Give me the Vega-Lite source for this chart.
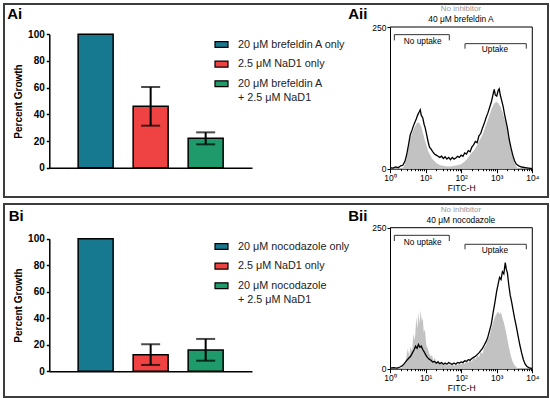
{
  "$schema": "https://vega.github.io/schema/vega-lite/v6.json",
  "padding": {"left": 3, "top": 3, "right": 3, "bottom": 3},
  "background": "white",
  "config": {
    "view": {"stroke": "#3c3c3c", "strokeWidth": 2},
    "font": "Liberation Sans",
    "axis": {"grid": false, "domainColor": "black", "tickColor": "black", "labelColor": "black", "titleColor": "black", "labelFont": "Liberation Sans", "titleFont": "Liberation Sans", "labelOverlap": false},
    "legend": {"orient": "none", "direction": "vertical", "symbolType": "M-1,-0.45H1V0.45H-1Z", "symbolSize": 169, "symbolStrokeColor": "black", "symbolStrokeWidth": 1.2, "symbolOpacity": 1, "labelFontSize": 10.8, "labelFont": "Liberation Sans", "labelColor": "#222222", "labelOffset": 9, "rowPadding": 6.6, "labelLimit": 300, "padding": 0},
    "style": {"guide-label": {"lineHeight": 14.4}},
    "text": {"font": "Liberation Sans", "baseline": "middle", "align": "center", "color": "black"},
    "concat": {"spacing": 5}
  },
  "datasets": {
    "barsA": [
      {"treatment": "20 μM brefeldin A only", "growth": 100, "lower": null, "upper": null},
      {"treatment": "2.5 μM NaD1 only", "growth": 46, "lower": 31.5, "upper": 60.5},
      {"treatment": "20 μM brefeldin A + 2.5 μM NaD1", "growth": 22, "lower": 17.5, "upper": 26.5}
    ],
    "barsB": [
      {"treatment": "20 μM nocodazole only", "growth": 100, "lower": null, "upper": null},
      {"treatment": "2.5 μM NaD1 only", "growth": 12.5, "lower": 4.8, "upper": 20.4},
      {"treatment": "20 μM nocodazole + 2.5 μM NaD1", "growth": 16, "lower": 8, "upper": 24.4}
    ],
    "histA": [
      {"sample":"none","lfitc":0.30,"count":0},{"sample":"none","lfitc":0.38,"count":3},{"sample":"none","lfitc":0.43,"count":10},{"sample":"none","lfitc":0.48,"count":22},{"sample":"none","lfitc":0.53,"count":40},{"sample":"none","lfitc":0.58,"count":55},{"sample":"none","lfitc":0.63,"count":64},{"sample":"none","lfitc":0.68,"count":72},{"sample":"none","lfitc":0.73,"count":78},{"sample":"none","lfitc":0.78,"count":82},{"sample":"none","lfitc":0.83,"count":80},{"sample":"none","lfitc":0.88,"count":74},{"sample":"none","lfitc":0.93,"count":62},{"sample":"none","lfitc":0.98,"count":50},{"sample":"none","lfitc":1.03,"count":40},{"sample":"none","lfitc":1.08,"count":30},{"sample":"none","lfitc":1.13,"count":24},{"sample":"none","lfitc":1.18,"count":18},{"sample":"none","lfitc":1.24,"count":14},{"sample":"none","lfitc":1.30,"count":10},{"sample":"none","lfitc":1.36,"count":8},{"sample":"none","lfitc":1.42,"count":6},{"sample":"none","lfitc":1.50,"count":5},{"sample":"none","lfitc":1.60,"count":4},{"sample":"none","lfitc":1.70,"count":4},{"sample":"none","lfitc":1.80,"count":5},{"sample":"none","lfitc":1.90,"count":6},{"sample":"none","lfitc":2.00,"count":8},{"sample":"none","lfitc":2.08,"count":12},{"sample":"none","lfitc":2.15,"count":16},{"sample":"none","lfitc":2.22,"count":22},{"sample":"none","lfitc":2.30,"count":28},{"sample":"none","lfitc":2.38,"count":34},{"sample":"none","lfitc":2.45,"count":42},{"sample":"none","lfitc":2.52,"count":50},{"sample":"none","lfitc":2.60,"count":60},{"sample":"none","lfitc":2.67,"count":72},{"sample":"none","lfitc":2.74,"count":84},{"sample":"none","lfitc":2.80,"count":95},{"sample":"none","lfitc":2.86,"count":106},{"sample":"none","lfitc":2.92,"count":114},{"sample":"none","lfitc":2.98,"count":118},{"sample":"none","lfitc":3.04,"count":116},{"sample":"none","lfitc":3.10,"count":110},{"sample":"none","lfitc":3.16,"count":100},{"sample":"none","lfitc":3.22,"count":88},{"sample":"none","lfitc":3.28,"count":74},{"sample":"none","lfitc":3.34,"count":56},{"sample":"none","lfitc":3.40,"count":34},{"sample":"none","lfitc":3.45,"count":20},{"sample":"none","lfitc":3.50,"count":10},{"sample":"none","lfitc":3.56,"count":3},{"sample":"none","lfitc":3.62,"count":0},
      {"sample":"inhibitor","lfitc":0.00,"count":2},{"sample":"inhibitor","lfitc":0.08,"count":1},{"sample":"inhibitor","lfitc":0.16,"count":3},{"sample":"inhibitor","lfitc":0.24,"count":2},{"sample":"inhibitor","lfitc":0.30,"count":5},{"sample":"inhibitor","lfitc":0.36,"count":6},{"sample":"inhibitor","lfitc":0.42,"count":13},{"sample":"inhibitor","lfitc":0.47,"count":25},{"sample":"inhibitor","lfitc":0.52,"count":42},{"sample":"inhibitor","lfitc":0.57,"count":60},{"sample":"inhibitor","lfitc":0.62,"count":68},{"sample":"inhibitor","lfitc":0.66,"count":76},{"sample":"inhibitor","lfitc":0.70,"count":82},{"sample":"inhibitor","lfitc":0.74,"count":88},{"sample":"inhibitor","lfitc":0.78,"count":95},{"sample":"inhibitor","lfitc":0.82,"count":100},{"sample":"inhibitor","lfitc":0.85,"count":104},{"sample":"inhibitor","lfitc":0.88,"count":94},{"sample":"inhibitor","lfitc":0.92,"count":90},{"sample":"inhibitor","lfitc":0.96,"count":78},{"sample":"inhibitor","lfitc":0.99,"count":72},{"sample":"inhibitor","lfitc":1.03,"count":60},{"sample":"inhibitor","lfitc":1.07,"count":48},{"sample":"inhibitor","lfitc":1.11,"count":38},{"sample":"inhibitor","lfitc":1.15,"count":35},{"sample":"inhibitor","lfitc":1.20,"count":30},{"sample":"inhibitor","lfitc":1.25,"count":26},{"sample":"inhibitor","lfitc":1.30,"count":24},{"sample":"inhibitor","lfitc":1.35,"count":22},{"sample":"inhibitor","lfitc":1.40,"count":20},{"sample":"inhibitor","lfitc":1.45,"count":22},{"sample":"inhibitor","lfitc":1.50,"count":18},{"sample":"inhibitor","lfitc":1.55,"count":21},{"sample":"inhibitor","lfitc":1.60,"count":17},{"sample":"inhibitor","lfitc":1.65,"count":20},{"sample":"inhibitor","lfitc":1.70,"count":16},{"sample":"inhibitor","lfitc":1.75,"count":20},{"sample":"inhibitor","lfitc":1.80,"count":17},{"sample":"inhibitor","lfitc":1.85,"count":19},{"sample":"inhibitor","lfitc":1.90,"count":22},{"sample":"inhibitor","lfitc":1.95,"count":20},{"sample":"inhibitor","lfitc":2.00,"count":24},{"sample":"inhibitor","lfitc":2.05,"count":22},{"sample":"inhibitor","lfitc":2.10,"count":28},{"sample":"inhibitor","lfitc":2.15,"count":26},{"sample":"inhibitor","lfitc":2.20,"count":32},{"sample":"inhibitor","lfitc":2.25,"count":30},{"sample":"inhibitor","lfitc":2.30,"count":38},{"sample":"inhibitor","lfitc":2.35,"count":42},{"sample":"inhibitor","lfitc":2.40,"count":48},{"sample":"inhibitor","lfitc":2.45,"count":46},{"sample":"inhibitor","lfitc":2.50,"count":58},{"sample":"inhibitor","lfitc":2.55,"count":62},{"sample":"inhibitor","lfitc":2.60,"count":72},{"sample":"inhibitor","lfitc":2.65,"count":80},{"sample":"inhibitor","lfitc":2.70,"count":90},{"sample":"inhibitor","lfitc":2.75,"count":98},{"sample":"inhibitor","lfitc":2.80,"count":108},{"sample":"inhibitor","lfitc":2.85,"count":118},{"sample":"inhibitor","lfitc":2.90,"count":132},{"sample":"inhibitor","lfitc":2.93,"count":140},{"sample":"inhibitor","lfitc":2.96,"count":130},{"sample":"inhibitor","lfitc":3.00,"count":128},{"sample":"inhibitor","lfitc":3.04,"count":138},{"sample":"inhibitor","lfitc":3.07,"count":141},{"sample":"inhibitor","lfitc":3.10,"count":130},{"sample":"inhibitor","lfitc":3.14,"count":120},{"sample":"inhibitor","lfitc":3.18,"count":110},{"sample":"inhibitor","lfitc":3.22,"count":96},{"sample":"inhibitor","lfitc":3.26,"count":84},{"sample":"inhibitor","lfitc":3.30,"count":72},{"sample":"inhibitor","lfitc":3.35,"count":52},{"sample":"inhibitor","lfitc":3.40,"count":37},{"sample":"inhibitor","lfitc":3.45,"count":24},{"sample":"inhibitor","lfitc":3.50,"count":14},{"sample":"inhibitor","lfitc":3.55,"count":8},{"sample":"inhibitor","lfitc":3.62,"count":5},{"sample":"inhibitor","lfitc":3.70,"count":3},{"sample":"inhibitor","lfitc":3.80,"count":2},{"sample":"inhibitor","lfitc":3.90,"count":1},{"sample":"inhibitor","lfitc":4.00,"count":0}
    ],
    "histB": [
      {"sample":"none","lfitc":0.30,"count":0},{"sample":"none","lfitc":0.36,"count":4},{"sample":"none","lfitc":0.42,"count":10},{"sample":"none","lfitc":0.46,"count":20},{"sample":"none","lfitc":0.50,"count":36},{"sample":"none","lfitc":0.54,"count":22},{"sample":"none","lfitc":0.58,"count":40},{"sample":"none","lfitc":0.62,"count":30},{"sample":"none","lfitc":0.66,"count":62},{"sample":"none","lfitc":0.70,"count":50},{"sample":"none","lfitc":0.74,"count":92},{"sample":"none","lfitc":0.77,"count":70},{"sample":"none","lfitc":0.80,"count":100},{"sample":"none","lfitc":0.83,"count":78},{"sample":"none","lfitc":0.86,"count":104},{"sample":"none","lfitc":0.89,"count":84},{"sample":"none","lfitc":0.92,"count":90},{"sample":"none","lfitc":0.95,"count":64},{"sample":"none","lfitc":0.98,"count":70},{"sample":"none","lfitc":1.02,"count":42},{"sample":"none","lfitc":1.06,"count":36},{"sample":"none","lfitc":1.10,"count":28},{"sample":"none","lfitc":1.14,"count":22},{"sample":"none","lfitc":1.18,"count":24},{"sample":"none","lfitc":1.22,"count":14},{"sample":"none","lfitc":1.26,"count":20},{"sample":"none","lfitc":1.30,"count":10},{"sample":"none","lfitc":1.35,"count":16},{"sample":"none","lfitc":1.40,"count":8},{"sample":"none","lfitc":1.45,"count":12},{"sample":"none","lfitc":1.50,"count":6},{"sample":"none","lfitc":1.55,"count":10},{"sample":"none","lfitc":1.60,"count":5},{"sample":"none","lfitc":1.65,"count":8},{"sample":"none","lfitc":1.70,"count":6},{"sample":"none","lfitc":1.75,"count":10},{"sample":"none","lfitc":1.80,"count":5},{"sample":"none","lfitc":1.85,"count":8},{"sample":"none","lfitc":1.90,"count":6},{"sample":"none","lfitc":1.95,"count":12},{"sample":"none","lfitc":2.00,"count":7},{"sample":"none","lfitc":2.05,"count":14},{"sample":"none","lfitc":2.10,"count":8},{"sample":"none","lfitc":2.15,"count":16},{"sample":"none","lfitc":2.20,"count":10},{"sample":"none","lfitc":2.25,"count":18},{"sample":"none","lfitc":2.30,"count":12},{"sample":"none","lfitc":2.35,"count":22},{"sample":"none","lfitc":2.40,"count":16},{"sample":"none","lfitc":2.45,"count":24},{"sample":"none","lfitc":2.50,"count":20},{"sample":"none","lfitc":2.55,"count":30},{"sample":"none","lfitc":2.60,"count":26},{"sample":"none","lfitc":2.65,"count":38},{"sample":"none","lfitc":2.70,"count":42},{"sample":"none","lfitc":2.75,"count":52},{"sample":"none","lfitc":2.80,"count":58},{"sample":"none","lfitc":2.85,"count":72},{"sample":"none","lfitc":2.90,"count":82},{"sample":"none","lfitc":2.95,"count":92},{"sample":"none","lfitc":3.00,"count":98},{"sample":"none","lfitc":3.04,"count":102},{"sample":"none","lfitc":3.08,"count":96},{"sample":"none","lfitc":3.12,"count":100},{"sample":"none","lfitc":3.16,"count":90},{"sample":"none","lfitc":3.20,"count":82},{"sample":"none","lfitc":3.25,"count":68},{"sample":"none","lfitc":3.30,"count":52},{"sample":"none","lfitc":3.35,"count":36},{"sample":"none","lfitc":3.40,"count":22},{"sample":"none","lfitc":3.45,"count":12},{"sample":"none","lfitc":3.50,"count":6},{"sample":"none","lfitc":3.56,"count":2},{"sample":"none","lfitc":3.62,"count":0},
      {"sample":"inhibitor","lfitc":0.00,"count":1},{"sample":"inhibitor","lfitc":0.10,"count":2},{"sample":"inhibitor","lfitc":0.20,"count":1},{"sample":"inhibitor","lfitc":0.28,"count":3},{"sample":"inhibitor","lfitc":0.34,"count":5},{"sample":"inhibitor","lfitc":0.40,"count":9},{"sample":"inhibitor","lfitc":0.46,"count":14},{"sample":"inhibitor","lfitc":0.52,"count":18},{"sample":"inhibitor","lfitc":0.58,"count":22},{"sample":"inhibitor","lfitc":0.63,"count":28},{"sample":"inhibitor","lfitc":0.68,"count":34},{"sample":"inhibitor","lfitc":0.72,"count":40},{"sample":"inhibitor","lfitc":0.76,"count":36},{"sample":"inhibitor","lfitc":0.80,"count":43},{"sample":"inhibitor","lfitc":0.84,"count":38},{"sample":"inhibitor","lfitc":0.88,"count":40},{"sample":"inhibitor","lfitc":0.92,"count":34},{"sample":"inhibitor","lfitc":0.96,"count":30},{"sample":"inhibitor","lfitc":1.00,"count":25},{"sample":"inhibitor","lfitc":1.05,"count":20},{"sample":"inhibitor","lfitc":1.10,"count":17},{"sample":"inhibitor","lfitc":1.15,"count":15},{"sample":"inhibitor","lfitc":1.20,"count":12},{"sample":"inhibitor","lfitc":1.25,"count":13},{"sample":"inhibitor","lfitc":1.30,"count":10},{"sample":"inhibitor","lfitc":1.35,"count":12},{"sample":"inhibitor","lfitc":1.40,"count":9},{"sample":"inhibitor","lfitc":1.45,"count":11},{"sample":"inhibitor","lfitc":1.50,"count":8},{"sample":"inhibitor","lfitc":1.55,"count":10},{"sample":"inhibitor","lfitc":1.60,"count":8},{"sample":"inhibitor","lfitc":1.65,"count":11},{"sample":"inhibitor","lfitc":1.70,"count":9},{"sample":"inhibitor","lfitc":1.75,"count":8},{"sample":"inhibitor","lfitc":1.80,"count":10},{"sample":"inhibitor","lfitc":1.85,"count":8},{"sample":"inhibitor","lfitc":1.90,"count":11},{"sample":"inhibitor","lfitc":1.95,"count":10},{"sample":"inhibitor","lfitc":2.00,"count":12},{"sample":"inhibitor","lfitc":2.05,"count":11},{"sample":"inhibitor","lfitc":2.10,"count":14},{"sample":"inhibitor","lfitc":2.15,"count":13},{"sample":"inhibitor","lfitc":2.20,"count":16},{"sample":"inhibitor","lfitc":2.25,"count":15},{"sample":"inhibitor","lfitc":2.30,"count":18},{"sample":"inhibitor","lfitc":2.35,"count":20},{"sample":"inhibitor","lfitc":2.40,"count":22},{"sample":"inhibitor","lfitc":2.45,"count":25},{"sample":"inhibitor","lfitc":2.50,"count":28},{"sample":"inhibitor","lfitc":2.55,"count":32},{"sample":"inhibitor","lfitc":2.60,"count":36},{"sample":"inhibitor","lfitc":2.65,"count":42},{"sample":"inhibitor","lfitc":2.70,"count":48},{"sample":"inhibitor","lfitc":2.75,"count":56},{"sample":"inhibitor","lfitc":2.80,"count":68},{"sample":"inhibitor","lfitc":2.85,"count":80},{"sample":"inhibitor","lfitc":2.90,"count":100},{"sample":"inhibitor","lfitc":2.95,"count":118},{"sample":"inhibitor","lfitc":3.00,"count":138},{"sample":"inhibitor","lfitc":3.04,"count":150},{"sample":"inhibitor","lfitc":3.08,"count":162},{"sample":"inhibitor","lfitc":3.12,"count":158},{"sample":"inhibitor","lfitc":3.16,"count":172},{"sample":"inhibitor","lfitc":3.20,"count":168},{"sample":"inhibitor","lfitc":3.24,"count":188},{"sample":"inhibitor","lfitc":3.27,"count":176},{"sample":"inhibitor","lfitc":3.30,"count":170},{"sample":"inhibitor","lfitc":3.34,"count":148},{"sample":"inhibitor","lfitc":3.38,"count":130},{"sample":"inhibitor","lfitc":3.42,"count":118},{"sample":"inhibitor","lfitc":3.46,"count":104},{"sample":"inhibitor","lfitc":3.50,"count":90},{"sample":"inhibitor","lfitc":3.55,"count":75},{"sample":"inhibitor","lfitc":3.60,"count":58},{"sample":"inhibitor","lfitc":3.65,"count":42},{"sample":"inhibitor","lfitc":3.70,"count":28},{"sample":"inhibitor","lfitc":3.75,"count":16},{"sample":"inhibitor","lfitc":3.80,"count":8},{"sample":"inhibitor","lfitc":3.85,"count":4},{"sample":"inhibitor","lfitc":3.90,"count":2},{"sample":"inhibitor","lfitc":4.00,"count":0}
    ]
  },
  "resolve": {"scale": {"color": "independent", "x": "independent", "y": "independent"}},
  "vconcat": [
    {
      "width": 544, "height": 193,
      "resolve": {"scale": {"x": "independent", "y": "independent"}},
      "layer": [
        {
          "data": {"name": "barsA"},
          "encoding": {
            "x": {"field": "treatment", "type": "nominal", "sort": null, "title": null,
              "scale": {"range": [45.3, 248], "paddingInner": 0.3636, "paddingOuter": 0.524},
              "axis": {"orient": "bottom", "offset": -29.3, "labels": false, "ticks": false, "domainWidth": 1.5}},
            "y": {"field": "growth", "type": "quantitative", "title": "Percent Growth",
              "scale": {"domain": [0, 100], "range": [163.7, 30.3], "nice": false},
              "axis": {"orient": "left", "offset": -45.3, "values": [0, 20, 40, 60, 80, 100], "tickSize": 3, "labelPadding": 2, "labelFontSize": 10, "labelFontWeight": "bold", "labelFlush": false, "labelOverlap": false, "labelSeparation": 0, "titleFontSize": 10, "titleFontWeight": "bold", "titlePadding": 4, "domainWidth": 1.5, "tickWidth": 1.5}}
          },
          "layer": [
            {"mark": {"type": "bar", "stroke": "black", "strokeWidth": 1.5},
             "encoding": {
               "color": {"field": "treatment", "type": "nominal", "sort": null,
                 "scale": {"domain": ["20 μM brefeldin A only", "2.5 μM NaD1 only", "20 μM brefeldin A + 2.5 μM NaD1"], "range": ["#17798f", "#ee4342", "#1f9a6b"]},
                 "legend": {"title": null, "legendX": 210, "legendY": 33,
                   "labelExpr": "indexof(datum.label, ' + ') > 0 ? [slice(datum.label, 0, indexof(datum.label, ' + ')), slice(datum.label, indexof(datum.label, ' + ') + 1)] : datum.label"}}
             }},
            {"mark": {"type": "errorbar", "ticks": {"size": 19, "thickness": 2, "color": "black"}, "rule": {"strokeWidth": 2, "color": "black"}},
             "encoding": {"y": {"field": "lower", "type": "quantitative", "title": "Percent Growth"}, "y2": {"field": "upper"}}}
          ]
        },
        {
          "data": {"name": "histA"},
          "encoding": {
            "x": {"field": "lfitc", "type": "quantitative", "title": "FITC-H",
              "scale": {"domain": [0, 4], "range": [386, 528.3], "nice": false, "zero": false},
              "axis": {"orient": "bottom", "offset": -28.3, "values": [0,0.301,0.477,0.602,0.699,0.778,0.845,0.903,0.954,1,1.301,1.477,1.602,1.699,1.778,1.845,1.903,1.954,2,2.301,2.477,2.602,2.699,2.778,2.845,2.903,2.954,3,3.301,3.477,3.602,3.699,3.778,3.845,3.903,3.954,4],
                "labelExpr": "datum.value % 1 == 0 ? '10' + ['⁰','¹','²','³','⁴'][datum.value] : ''",
                "labelOverlap": false, "labelFlush": false,
                "tickSize": {"condition": {"test": "datum.value % 1 == 0", "value": 4}, "value": 2},
                "labelFontSize": 8.5, "labelPadding": 1, "titleFontSize": 8.5, "titleFontWeight": "normal", "titlePadding": 1, "domainWidth": 1, "tickWidth": 1}},
            "y": {"field": "count", "type": "quantitative", "title": null,
              "scale": {"domain": [0, 250], "range": [164.7, 23], "nice": false},
              "axis": {"orient": "left", "offset": -386, "values": [0, 250], "tickSize": 3, "labelPadding": 1, "labelFontSize": 8.5, "domainWidth": 1, "tickWidth": 1}}
          },
          "layer": [
            {"transform": [{"filter": "datum.sample == 'none'"}], "mark": {"type": "area", "color": "#c2c2c2"}},
            {"transform": [{"filter": "datum.sample == 'inhibitor'"}], "mark": {"type": "line", "color": "black", "strokeWidth": 1.3}},
            {"transform": [{"filter": "datum.sample == 'inhibitor' && datum.lfitc == 0"}], "mark": {"type": "rule", "color": "black", "strokeWidth": 1}, "encoding": {"x": {"datum": 0}, "x2": {"datum": 4}, "y": {"datum": 250}}},
            {"transform": [{"filter": "datum.sample == 'inhibitor' && datum.lfitc == 0"}], "mark": {"type": "rule", "color": "black", "strokeWidth": 1}, "encoding": {"x": {"datum": 4}, "y": {"datum": 0}, "y2": {"datum": 250}}},
            {"transform": [{"filter": "datum.sample == 'inhibitor' && datum.lfitc == 0"}], "mark": {"type": "rule", "color": "#333333", "strokeWidth": 1}, "encoding": {"x": {"datum": 0.122}, "x2": {"datum": 1.667}, "y": {"datum": 236.5}}},
            {"transform": [{"filter": "datum.sample == 'inhibitor' && datum.lfitc == 0"}], "mark": {"type": "rule", "color": "#333333", "strokeWidth": 1}, "encoding": {"x": {"datum": 0.122}, "y": {"datum": 226.4}, "y2": {"datum": 236.5}}},
            {"transform": [{"filter": "datum.sample == 'inhibitor' && datum.lfitc == 0"}], "mark": {"type": "rule", "color": "#333333", "strokeWidth": 1}, "encoding": {"x": {"datum": 1.667}, "y": {"datum": 226.4}, "y2": {"datum": 236.5}}},
            {"transform": [{"filter": "datum.sample == 'inhibitor' && datum.lfitc == 0"}], "mark": {"type": "rule", "color": "#333333", "strokeWidth": 1}, "encoding": {"x": {"datum": 2.108}, "x2": {"datum": 3.831}, "y": {"datum": 220.6}}},
            {"transform": [{"filter": "datum.sample == 'inhibitor' && datum.lfitc == 0"}], "mark": {"type": "rule", "color": "#333333", "strokeWidth": 1}, "encoding": {"x": {"datum": 2.108}, "y": {"datum": 211.7}, "y2": {"datum": 220.6}}},
            {"transform": [{"filter": "datum.sample == 'inhibitor' && datum.lfitc == 0"}], "mark": {"type": "rule", "color": "#333333", "strokeWidth": 1}, "encoding": {"x": {"datum": 3.831}, "y": {"datum": 211.7}, "y2": {"datum": 220.6}}},
            {"transform": [{"filter": "datum.sample == 'inhibitor' && datum.lfitc == 0"}], "mark": {"type": "text", "fontSize": 8.3, "text": "No uptake"}, "encoding": {"x": {"datum": 0.918}, "y": {"datum": 223.4}}},
            {"transform": [{"filter": "datum.sample == 'inhibitor' && datum.lfitc == 0"}], "mark": {"type": "text", "fontSize": 8.3, "text": "Uptake"}, "encoding": {"x": {"datum": 2.951}, "y": {"datum": 208.7}}},
            {"transform": [{"filter": "datum.sample == 'inhibitor' && datum.lfitc == 0"}], "mark": {"type": "text", "fontSize": 8, "color": "#9a9a9a", "text": "No inhibitor"}, "encoding": {"x": {"datum": 1.994}, "y": {"datum": 282.6}}},
            {"transform": [{"filter": "datum.sample == 'inhibitor' && datum.lfitc == 0"}], "mark": {"type": "text", "fontSize": 8.4, "text": "40 μM brefeldin A"}, "encoding": {"x": {"datum": 1.994}, "y": {"datum": 264.9}}},
            {"transform": [{"filter": "datum.sample == 'inhibitor' && datum.lfitc == 0"}], "mark": {"type": "text", "fontSize": 15, "fontWeight": "bold", "align": "left", "text": "Ai"}, "encoding": {"x": {"datum": -10.76}, "y": {"datum": 273.8}}},
            {"transform": [{"filter": "datum.sample == 'inhibitor' && datum.lfitc == 0"}], "mark": {"type": "text", "fontSize": 15, "fontWeight": "bold", "text": "Aii"}, "encoding": {"x": {"datum": -0.907}, "y": {"datum": 273.8}}}
          ]
        }
      ]
    },
    {
      "width": 544, "height": 193,
      "resolve": {"scale": {"x": "independent", "y": "independent"}},
      "layer": [
        {
          "data": {"name": "barsB"},
          "encoding": {
            "x": {"field": "treatment", "type": "nominal", "sort": null, "title": null,
              "scale": {"range": [45.3, 248], "paddingInner": 0.3636, "paddingOuter": 0.524},
              "axis": {"orient": "bottom", "offset": -25.7, "labels": false, "ticks": false, "domainWidth": 1.5}},
            "y": {"field": "growth", "type": "quantitative", "title": "Percent Growth",
              "scale": {"domain": [0, 100], "range": [167.3, 34.7], "nice": false},
              "axis": {"orient": "left", "offset": -45.3, "tickCount": 5, "tickSize": 3, "labelPadding": 2, "labelFontSize": 10, "labelFontWeight": "bold", "labelFlush": false, "labelOverlap": false, "labelSeparation": 0, "titleFontSize": 10, "titleFontWeight": "bold", "titlePadding": 4, "domainWidth": 1.5, "tickWidth": 1.5}}
          },
          "layer": [
            {"mark": {"type": "bar", "stroke": "black", "strokeWidth": 1.5},
             "encoding": {
               "color": {"field": "treatment", "type": "nominal", "sort": null,
                 "scale": {"domain": ["20 μM nocodazole only", "2.5 μM NaD1 only", "20 μM nocodazole + 2.5 μM NaD1"], "range": ["#17798f", "#ee4342", "#1f9a6b"]},
                 "legend": {"title": null, "legendX": 210, "legendY": 35,
                   "labelExpr": "indexof(datum.label, ' + ') > 0 ? [slice(datum.label, 0, indexof(datum.label, ' + ')), slice(datum.label, indexof(datum.label, ' + ') + 1)] : datum.label"}}
             }},
            {"mark": {"type": "errorbar", "ticks": {"size": 19, "thickness": 2, "color": "black"}, "rule": {"strokeWidth": 2, "color": "black"}},
             "encoding": {"y": {"field": "lower", "type": "quantitative", "title": "Percent Growth"}, "y2": {"field": "upper"}}}
          ]
        },
        {
          "data": {"name": "histB"},
          "encoding": {
            "x": {"field": "lfitc", "type": "quantitative", "title": "FITC-H",
              "scale": {"domain": [0, 4], "range": [386, 528.3], "nice": false, "zero": false},
              "axis": {"orient": "bottom", "offset": -28.3, "values": [0,0.301,0.477,0.602,0.699,0.778,0.845,0.903,0.954,1,1.301,1.477,1.602,1.699,1.778,1.845,1.903,1.954,2,2.301,2.477,2.602,2.699,2.778,2.845,2.903,2.954,3,3.301,3.477,3.602,3.699,3.778,3.845,3.903,3.954,4],
                "labelExpr": "datum.value % 1 == 0 ? '10' + ['⁰','¹','²','³','⁴'][datum.value] : ''",
                "labelOverlap": false, "labelFlush": false,
                "tickSize": {"condition": {"test": "datum.value % 1 == 0", "value": 4}, "value": 2},
                "labelFontSize": 8.5, "labelPadding": 1, "titleFontSize": 8.5, "titleFontWeight": "normal", "titlePadding": 1, "domainWidth": 1, "tickWidth": 1}},
            "y": {"field": "count", "type": "quantitative", "title": null,
              "scale": {"domain": [0, 250], "range": [164.7, 23.7], "nice": false},
              "axis": {"orient": "left", "offset": -386, "values": [0, 250], "tickSize": 3, "labelPadding": 1, "labelFontSize": 8.5, "domainWidth": 1, "tickWidth": 1}}
          },
          "layer": [
            {"transform": [{"filter": "datum.sample == 'none'"}], "mark": {"type": "area", "color": "#c2c2c2"}},
            {"transform": [{"filter": "datum.sample == 'inhibitor'"}], "mark": {"type": "line", "color": "black", "strokeWidth": 1.3}},
            {"transform": [{"filter": "datum.sample == 'inhibitor' && datum.lfitc == 0"}], "mark": {"type": "rule", "color": "black", "strokeWidth": 1}, "encoding": {"x": {"datum": 0}, "x2": {"datum": 4}, "y": {"datum": 250}}},
            {"transform": [{"filter": "datum.sample == 'inhibitor' && datum.lfitc == 0"}], "mark": {"type": "rule", "color": "black", "strokeWidth": 1}, "encoding": {"x": {"datum": 4}, "y": {"datum": 0}, "y2": {"datum": 250}}},
            {"transform": [{"filter": "datum.sample == 'inhibitor' && datum.lfitc == 0"}], "mark": {"type": "rule", "color": "#333333", "strokeWidth": 1}, "encoding": {"x": {"datum": 0.122}, "x2": {"datum": 1.667}, "y": {"datum": 236.5}}},
            {"transform": [{"filter": "datum.sample == 'inhibitor' && datum.lfitc == 0"}], "mark": {"type": "rule", "color": "#333333", "strokeWidth": 1}, "encoding": {"x": {"datum": 0.122}, "y": {"datum": 226.4}, "y2": {"datum": 236.5}}},
            {"transform": [{"filter": "datum.sample == 'inhibitor' && datum.lfitc == 0"}], "mark": {"type": "rule", "color": "#333333", "strokeWidth": 1}, "encoding": {"x": {"datum": 1.667}, "y": {"datum": 226.4}, "y2": {"datum": 236.5}}},
            {"transform": [{"filter": "datum.sample == 'inhibitor' && datum.lfitc == 0"}], "mark": {"type": "rule", "color": "#333333", "strokeWidth": 1}, "encoding": {"x": {"datum": 2.108}, "x2": {"datum": 3.831}, "y": {"datum": 220.6}}},
            {"transform": [{"filter": "datum.sample == 'inhibitor' && datum.lfitc == 0"}], "mark": {"type": "rule", "color": "#333333", "strokeWidth": 1}, "encoding": {"x": {"datum": 2.108}, "y": {"datum": 211.7}, "y2": {"datum": 220.6}}},
            {"transform": [{"filter": "datum.sample == 'inhibitor' && datum.lfitc == 0"}], "mark": {"type": "rule", "color": "#333333", "strokeWidth": 1}, "encoding": {"x": {"datum": 3.831}, "y": {"datum": 211.7}, "y2": {"datum": 220.6}}},
            {"transform": [{"filter": "datum.sample == 'inhibitor' && datum.lfitc == 0"}], "mark": {"type": "text", "fontSize": 8.3, "text": "No uptake"}, "encoding": {"x": {"datum": 0.918}, "y": {"datum": 223.4}}},
            {"transform": [{"filter": "datum.sample == 'inhibitor' && datum.lfitc == 0"}], "mark": {"type": "text", "fontSize": 8.3, "text": "Uptake"}, "encoding": {"x": {"datum": 2.951}, "y": {"datum": 208.7}}},
            {"transform": [{"filter": "datum.sample == 'inhibitor' && datum.lfitc == 0"}], "mark": {"type": "text", "fontSize": 8, "color": "#9a9a9a", "text": "No inhibitor"}, "encoding": {"x": {"datum": 1.994}, "y": {"datum": 281}}},
            {"transform": [{"filter": "datum.sample == 'inhibitor' && datum.lfitc == 0"}], "mark": {"type": "text", "fontSize": 8.4, "text": "40 μM nocodazole"}, "encoding": {"x": {"datum": 1.994}, "y": {"datum": 263.6}}},
            {"transform": [{"filter": "datum.sample == 'inhibitor' && datum.lfitc == 0"}], "mark": {"type": "text", "fontSize": 15, "fontWeight": "bold", "align": "left", "text": "Bi"}, "encoding": {"x": {"datum": -10.72}, "y": {"datum": 270.7}}},
            {"transform": [{"filter": "datum.sample == 'inhibitor' && datum.lfitc == 0"}], "mark": {"type": "text", "fontSize": 15, "fontWeight": "bold", "text": "Bii"}, "encoding": {"x": {"datum": -0.907}, "y": {"datum": 270.7}}}
          ]
        }
      ]
    }
  ]
}
